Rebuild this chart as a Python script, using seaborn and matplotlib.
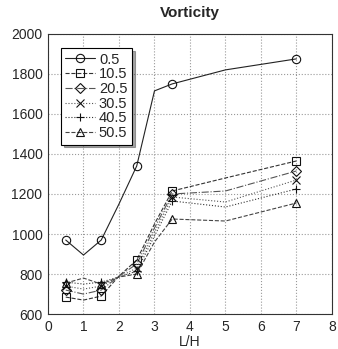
import pandas as pd
import seaborn as sns
import matplotlib.pyplot as plt

# L/H positions (markers every other point)
lh = [0.5, 1, 1.5, 2, 2.5, 3, 3.5, 5, 7]

v_05 = [970, 895, 970, 1150, 1340, 1715, 1750, 1820, 1875]
v_105 = [685, 670, 690, 790, 870, 1050, 1215, 1280, 1365]
v_205 = [720, 700, 720, 790, 850, 1030, 1200, 1215, 1315]
v_305 = [740, 725, 740, 785, 830, 1010, 1185, 1160, 1270]
v_405 = [760, 750, 760, 785, 815, 990, 1165, 1135, 1225]
v_505 = [755, 780, 750, 785, 800, 960, 1075, 1065, 1155]

labels = ["0.5", "10.5", "20.5", "30.5", "40.5", "50.5"]
series = [v_05, v_105, v_205, v_305, v_405, v_505]

df = pd.DataFrame({
    "L/H": lh * len(labels),
    "value": sum(series, []),
    "case": [lab for lab in labels for _ in lh],
})

sns.set_style("whitegrid")
plt.rcParams["font.family"] = ["Liberation Sans", "DejaVu Sans"]

fig = plt.figure(figsize=(3.38, 3.49), dpi=100)
ax = fig.add_axes([0.142, 0.10, 0.840, 0.803])

styles = {
    "0.5": ("-", "o", "#222222"),
    "10.5": ("--", "s", "#333333"),
    "20.5": ("-.", "D", "#555555"),
    "30.5": (":", "x", "#555555"),
    "40.5": (":", "+", "#333333"),
    "50.5": ("--", "^", "#444444"),
}

for lab in labels:
    ls, mk, col = styles[lab]
    sns.lineplot(
        data=df[df["case"] == lab], x="L/H", y="value", ax=ax,
        color=col, linestyle=ls, linewidth=0.8, marker=mk,
        markersize=6 if mk != "D" else 5, markerfacecolor="none",
        markeredgecolor="#111111", markeredgewidth=0.8,
        markevery=2, label=lab,
    )

ax.set_xlim(0, 8)
ax.set_ylim(600, 2000)
ax.set_xticks(range(0, 9))
ax.set_yticks(range(600, 2001, 200))
ax.grid(True, linestyle=":", color="#999999", linewidth=0.8)
for sp in ax.spines.values():
    sp.set_color("#333333")
    sp.set_linewidth(0.8)
ax.tick_params(labelsize=10, length=0, pad=4)

ax.set_title("Vorticity", fontsize=11, fontweight="bold", pad=12)
ax.set_xlabel("L/H", fontsize=10, labelpad=1)
ax.set_ylabel("")

leg = ax.legend(loc="upper left", bbox_to_anchor=(0.02, 0.975), fontsize=10.5,
                frameon=True, fancybox=False, shadow=True, framealpha=1,
                handlelength=2.0, handletextpad=0.3, borderpad=0.3,
                labelspacing=0.05, edgecolor="black")
leg.get_frame().set_linewidth(0.8)

plt.savefig("out.png", dpi=100)
